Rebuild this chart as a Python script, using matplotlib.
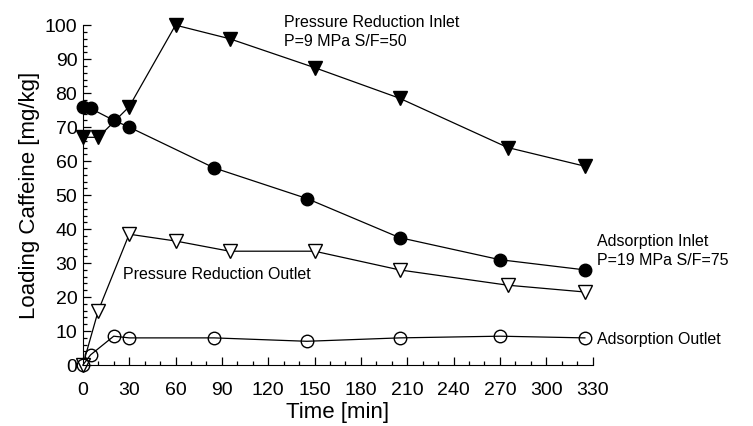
#!/usr/bin/env python3

import matplotlib.pyplot as plt
from matplotlib.ticker import MultipleLocator

plt.rcParams['font.family'] = ['Liberation Sans', 'DejaVu Sans']

# pressure reduction inlet, P=9 MPa S/F=50
pr_in_t = [0, 10, 30, 60, 95, 150, 205, 275, 325]
pr_in = [67, 67, 76, 100, 96, 87.5, 78.5, 64, 58.5]

# pressure reduction outlet
pr_out_t = [0, 10, 30, 60, 95, 150, 205, 275, 325]
pr_out = [0, 16, 38.5, 36.5, 33.5, 33.5, 28, 23.5, 21.5]

# adsorption inlet, P=19 MPa S/F=75
ad_in_t = [0, 5, 20, 30, 85, 145, 205, 270, 325]
ad_in = [76, 75.5, 72, 70, 58, 49, 37.5, 31, 28]

# adsorption outlet
ad_out_t = [0, 5, 20, 30, 85, 145, 205, 270, 325]
ad_out = [0, 3, 8.5, 8, 8, 7, 8, 8.5, 8]

fig = plt.figure(figsize=(7.53, 4.26), dpi=100)
ax = fig.add_axes([0.110, 0.143, 0.677, 0.798])

line = dict(color='k', lw=0.9, clip_on=False)
ax.plot(pr_in_t, pr_in, marker='v', ms=10, mfc='k', mec='k', **line)
ax.plot(pr_out_t, pr_out, marker='v', ms=10, mfc='white', mec='k', mew=1.0, **line)
ax.plot(ad_in_t, ad_in, marker='o', ms=9, mfc='k', mec='k', **line)
ax.plot(ad_out_t, ad_out, marker='o', ms=9, mfc='none', mec='k', mew=1.0, **line)

ax.set_xlim(0, 330)
ax.set_ylim(0, 100)
ax.xaxis.set_major_locator(MultipleLocator(30))
ax.xaxis.set_minor_locator(MultipleLocator(10))
ax.yaxis.set_major_locator(MultipleLocator(10))
ax.yaxis.set_minor_locator(MultipleLocator(2))
ax.tick_params(which='both', direction='in', labelsize=14, width=0.9)
ax.tick_params(which='major', length=6)
ax.tick_params(which='minor', length=3)
ax.tick_params(axis='x', which='major', pad=12)
ax.tick_params(axis='y', which='major', pad=4)
ax.spines['top'].set_visible(False)
ax.spines['right'].set_visible(False)

ax.set_xlabel("Time [min]", fontsize=16, labelpad=2)
ax.set_ylabel("Loading Caffeine [mg/kg]", fontsize=16, labelpad=3)

ax.text(130, 98, "Pressure Reduction Inlet\nP=9 MPa S/F=50", fontsize=11.5,
        ha='left', va='center', linespacing=1.35)
ax.text(26, 26.5, "Pressure Reduction Outlet", fontsize=11.5, ha='left', va='center')
ax.text(333, 33.5, "Adsorption Inlet\nP=19 MPa S/F=75", fontsize=11.5,
        ha='left', va='center', linespacing=1.35)
ax.text(333, 7.4, "Adsorption Outlet", fontsize=11.5, ha='left', va='center')

plt.savefig("out.png")
